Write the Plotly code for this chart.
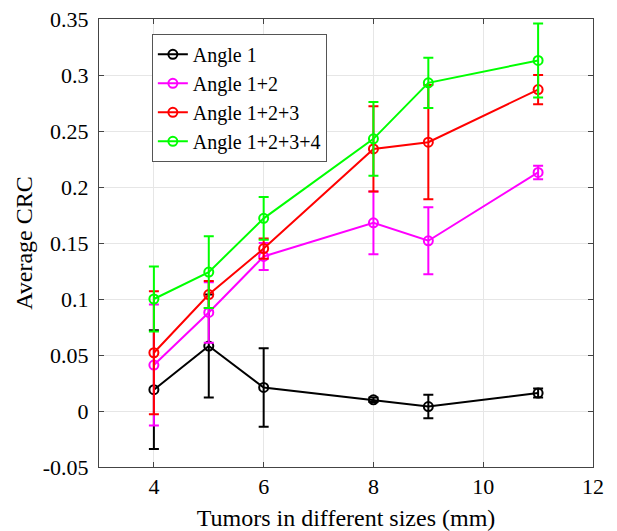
import plotly.graph_objects as go

sizes = [4, 5, 6, 8, 9, 11]

angle1 = [0.019, 0.058, 0.021, 0.010, 0.004, 0.016]
angle1_err = [0.053, 0.046, 0.035, 0.002, 0.0105, 0.004]

angle12 = [0.041, 0.088, 0.138, 0.168, 0.152, 0.213]
angle12_err = [0.054, 0.027, 0.012, 0.028, 0.030, 0.006]

angle123 = [0.052, 0.104, 0.145, 0.234, 0.240, 0.287]
angle123_err = [0.055, 0.012, 0.009, 0.038, 0.051, 0.013]

angle1234 = [0.100, 0.124, 0.172, 0.243, 0.293, 0.313]
angle1234_err = [0.029, 0.032, 0.019, 0.033, 0.0225, 0.033]

series_names = ["Angle 1", "Angle 1+2", "Angle 1+2+3", "Angle 1+2+3+4"]
series_vals = [angle1, angle12, angle123, angle1234]
series_errs = [angle1_err, angle12_err, angle123_err, angle1234_err]
colors = ["#000000", "#FF00FF", "#FF0000", "#00FF00"]

y_tickvals = [-0.05, 0, 0.05, 0.1, 0.15, 0.2, 0.25, 0.3, 0.35]
y_ticktext = ["-0.05", "0", "0.05", "0.1", "0.15", "0.2", "0.25", "0.3", "0.35"]
x_tickvals = [4, 6, 8, 10, 12]

FONT = "Liberation Serif, Times New Roman, serif"

fig = go.Figure()
for name, vals, errs, c in zip(series_names, series_vals, series_errs, colors):
    fig.add_trace(go.Scatter(
        x=sizes, y=vals, name=name, mode="lines+markers",
        line=dict(color=c, width=2),
        marker=dict(symbol="circle-open", size=9, color=c, line=dict(width=2, color=c)),
        error_y=dict(type="data", array=errs, visible=True, color=c, thickness=2, width=5),
    ))

fig.update_layout(
    width=617, height=531,
    margin=dict(l=99, r=24, t=19, b=64, autoexpand=False),
    paper_bgcolor="white", plot_bgcolor="white",
    font=dict(family=FONT, size=22, color="#000000"),
    showlegend=True,
    legend=dict(
        x=0.107, y=0.967, xanchor="left", yanchor="top",
        bgcolor="white", bordercolor="#555555", borderwidth=1,
        font=dict(family=FONT, size=20, color="#000000"),
        tracegroupgap=0, itemwidth=30,
    ),
    xaxis=dict(
        range=[3, 12.00001], tickvals=x_tickvals,
        showgrid=True, gridcolor="#e6e6e6", gridwidth=1,
        showline=True, linecolor="#444444", linewidth=1, mirror="ticks",
        ticks="inside", ticklen=5, tickcolor="#444444",
        zeroline=False, automargin=False,
        title=dict(text="Tumors in different sizes (mm)", font=dict(family=FONT, size=24), standoff=10),
        tickfont=dict(family=FONT, size=22),
    ),
    yaxis=dict(
        range=[-0.05, 0.35001], tickvals=y_tickvals, ticktext=y_ticktext,
        showgrid=True, gridcolor="#e6e6e6", gridwidth=1,
        showline=True, linecolor="#444444", linewidth=1, mirror="ticks",
        ticks="inside", ticklen=5, tickcolor="#444444",
        ticklabelstandoff=5,
        zeroline=False, automargin=False,
        title=dict(text="Average CRC", font=dict(family=FONT, size=24), standoff=3),
        tickfont=dict(family=FONT, size=22),
    ),
)

fig.write_html(
    "out.html",
    config={"displayModeBar": False},
    post_script="document.body.style.margin='0';document.documentElement.style.overflow='hidden';",
)
